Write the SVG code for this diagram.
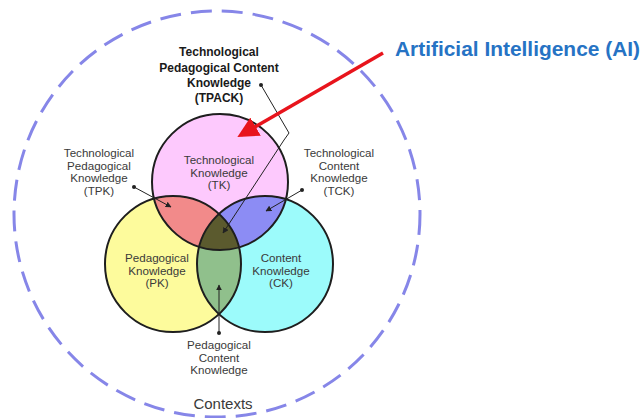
<svg xmlns="http://www.w3.org/2000/svg" width="643" height="418" viewBox="0 0 643 418">
<style>
.lbl{font-family:"Liberation Sans",Arial,sans-serif;font-size:11.6px;fill:#3a3a3a;text-anchor:middle}
.bold{font-weight:bold;fill:#1a1a1a;font-size:12px}
.ring{fill:none;stroke:#1e1e1e;stroke-width:2}
.ptr{fill:none;stroke:#222;stroke-width:1}
.dot{fill:#222}
</style>
<defs>
<clipPath id="cTK"><circle cx="220" cy="182" r="68"/></clipPath>
<clipPath id="cPK"><circle cx="173" cy="264" r="68"/></clipPath>
<marker id="ah" viewBox="0 0 10 10" refX="9" refY="5" markerWidth="6" markerHeight="6" orient="auto" markerUnits="userSpaceOnUse"><path d="M0,0 L10,5 L0,10 z" fill="#222"/></marker>
<marker id="red" viewBox="0 0 10 10" refX="8" refY="5" markerWidth="6" markerHeight="6" orient="auto"><path d="M0,0 L10,5 L0,10 z" fill="#e8141c"/></marker>
</defs>
<rect width="643" height="418" fill="#fff"/>
<g id="contexts">
<circle cx="217" cy="214" r="203" fill="none" stroke="#8686e8" stroke-width="3" stroke-dasharray="21 10"/>
<text class="lbl" x="223" y="409" style="font-size:15px">Contexts</text>
</g>
<g id="venn">
<circle cx="220" cy="182" r="68" fill="#fdc9fd"/>
<circle cx="173" cy="264" r="68" fill="#fdfb9c"/>
<circle cx="265" cy="264" r="68" fill="#9cfbfb"/>
<g clip-path="url(#cTK)"><circle cx="173" cy="264" r="68" fill="#f28a8a"/><circle cx="265" cy="264" r="68" fill="#8c8cf4"/></g>
<g clip-path="url(#cPK)"><circle cx="265" cy="264" r="68" fill="#90c08c"/></g>
<g clip-path="url(#cTK)"><g clip-path="url(#cPK)"><circle cx="265" cy="264" r="68" fill="#5b5a2e"/></g></g>
<circle class="ring" cx="220" cy="182" r="68"/>
<circle class="ring" cx="173" cy="264" r="68"/>
<circle class="ring" cx="265" cy="264" r="68"/>
</g>
<g id="tk"><text class="lbl"><tspan x="219" y="164">Technological</tspan><tspan x="219" y="176.5">Knowledge</tspan><tspan x="219" y="189">(TK)</tspan></text></g>
<g id="pk"><text class="lbl"><tspan x="157" y="262">Pedagogical</tspan><tspan x="157" y="274.5">Knowledge</tspan><tspan x="157" y="287">(PK)</tspan></text></g>
<g id="ck"><text class="lbl"><tspan x="281" y="262">Content</tspan><tspan x="281" y="274.5">Knowledge</tspan><tspan x="281" y="287">(CK)</tspan></text></g>
<g id="tpack"><text class="lbl bold"><tspan x="219" y="56">Technological</tspan><tspan x="219" y="72">Pedagogical Content</tspan><tspan x="219" y="87">Knowledge</tspan><tspan x="219" y="102">(TPACK)</tspan></text></g>
<g id="tpk"><text class="lbl"><tspan x="99" y="157">Technological</tspan><tspan x="99" y="169.5">Pedagogical</tspan><tspan x="99" y="182">Knowledge</tspan><tspan x="99" y="194.5">(TPK)</tspan></text></g>
<g id="tck"><text class="lbl"><tspan x="339" y="157">Technological</tspan><tspan x="339" y="169.5">Content</tspan><tspan x="339" y="182">Knowledge</tspan><tspan x="339" y="194.5">(TCK)</tspan></text></g>
<g id="pck"><text class="lbl"><tspan x="219" y="349">Pedagogical</tspan><tspan x="219" y="361.5">Content</tspan><tspan x="219" y="374">Knowledge</tspan></text></g>
<g id="ai"><text x="395" y="56" textLength="245" lengthAdjust="spacingAndGlyphs" style="font-family:'Liberation Sans',Arial,sans-serif;font-size:21px;font-weight:bold;fill:#2673c4">Artificial Intelligence (AI)</text></g>
<g id="connectors">
<path class="ptr" d="M261,85 L289,133 L284,140 L223,233" marker-end="url(#ah)"/>
<circle class="dot" cx="261" cy="85" r="2"/>
<path class="ptr" d="M134,187 L171,207" marker-end="url(#ah)"/>
<circle class="dot" cx="134" cy="187" r="2"/>
<path class="ptr" d="M302,190 L266,211" marker-end="url(#ah)"/>
<circle class="dot" cx="302" cy="190" r="2"/>
<path class="ptr" d="M219,333 L219,285" marker-end="url(#ah)"/>
<circle class="dot" cx="219" cy="333" r="2"/>
<path d="M383,53 L241,135" fill="none" stroke="#e8141c" stroke-width="3.5" marker-end="url(#red)"/>
</g>
</svg>
